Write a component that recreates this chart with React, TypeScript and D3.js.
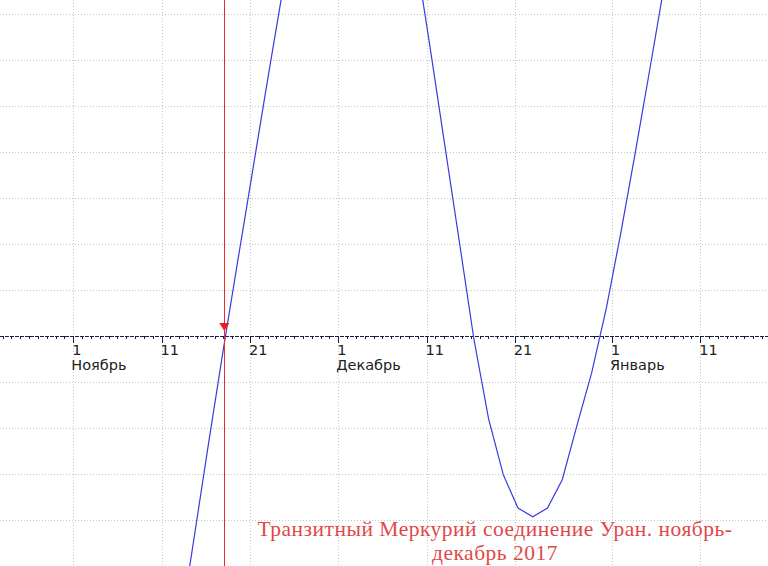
import React from "react";
import * as d3 from "d3";

// Days counted from 1 November 2017 (0 = Nov 1)
const sampleDays = [12.03, 13.70, 15.36, 17.03, 18.70, 20.36, 22.03, 23.70, 25.36, 27.03, 28.70, 30.36, 32.03, 33.70, 35.36, 37.03, 38.70, 40.36, 42.03, 43.70, 45.36, 47.03, 48.70, 50.36, 52.03, 53.70, 55.36, 57.03, 58.70, 60.36, 62.03, 63.70, 65.36, 67.03];
const orbValues = [-6.45, -4.36, -2.28, -0.24, 1.72, 3.65, 5.6, 7.5, 9.1, 10.4, 11.3, 11.95, 12.3, 12.1, 11.3, 10.05, 8.38, 6.33, 4.2, 2.07, -0.06, -1.8, -3.02, -3.74, -3.93, -3.74, -3.13, -1.95, -0.8, 0.6, 2.27, 4.05, 5.88, 7.75];

const tickDays = [0, 10, 20, 30, 40, 50, 61, 71];
const tickLabels = ["1", "11", "21", "1", "11", "21", "1", "11"];
const monthDays = [0, 30, 61];
const monthLabels = ["Ноябрь", "Декабрь", "Январь"];
const gridValues = [-5, -4, -3, -2, -1, 1, 2, 3, 4, 5, 6, 7];
const markerDay = 17.1;
const titleLines = ["Транзитный Меркурий соединение Уран. ноябрь-", "декабрь 2017"];

const W = 768;
const H = 566;

export default function App() {
  const x = d3.scaleLinear().domain([-8.3, 78.67]).range([0, W]);
  const y = d3.scaleLinear().domain([-5, 7.3043]).range([H, 0]);
  const y0 = y(0);

  const line = d3
    .line<number>()
    .x((_, i) => x(sampleDays[i]))
    .y((v) => y(v));

  const minorDays = d3.range(-8, 79);

  return (
    <svg
      width={W}
      height={H}
      style={{ position: "absolute", left: 0, top: 0, background: "#fff" }}
      fontFamily="'DejaVu Sans', Verdana, sans-serif"
    >
      <rect x={0} y={0} width={W} height={H} fill="#fff" />
      <defs>
        <clipPath id="plot">
          <rect x={0} y={0} width={W} height={H} />
        </clipPath>
      </defs>
      {/* grid */}
      <g stroke="#c4c4c4" strokeWidth={1} strokeDasharray="1 2">
        {gridValues.map((v) => (
          <line key={"h" + v} x1={0} x2={W} y1={Math.round(y(v)) + 0.5} y2={Math.round(y(v)) + 0.5} />
        ))}
        {tickDays.map((d) => (
          <line key={"v" + d} x1={Math.round(x(d)) + 0.5} x2={Math.round(x(d)) + 0.5} y1={0} y2={H} />
        ))}
      </g>
      {/* axis */}
      <line x1={0} x2={W} y1={Math.round(y0) + 0.5} y2={Math.round(y0) + 0.5} stroke="#1a1a40" strokeWidth={1} strokeDasharray="4 1" />
      <g stroke="#1a1a40" strokeWidth={1}>
        {minorDays.map((d) => (
          <line key={"m" + d} x1={Math.round(x(d)) + 0.5} x2={Math.round(x(d)) + 0.5} y1={Math.round(y0)} y2={Math.round(y0) + 3} />
        ))}
        {tickDays.map((d) => (
          <line key={"t" + d} x1={Math.round(x(d)) + 0.5} x2={Math.round(x(d)) + 0.5} y1={Math.round(y0)} y2={Math.round(y0) + 7} />
        ))}
      </g>
      <g fontSize={14.5} fill="#222">
        {tickDays.map((d, i) => (
          <text key={"l" + d} x={x(d) - 1} y={y0 + 19}>
            {tickLabels[i]}
          </text>
        ))}
        {monthDays.map((d, i) => (
          <text key={"mo" + d} x={x(d) - 2} y={y0 + 34}>
            {monthLabels[i]}
          </text>
        ))}
      </g>
      {/* curve */}
      <path d={line(orbValues) || ""} fill="none" stroke="#3a3ae0" strokeWidth={1.2} clipPath="url(#plot)" />
      {/* marker */}
      <line x1={Math.round(x(markerDay)) + 0.5} x2={Math.round(x(markerDay)) + 0.5} y1={0} y2={H} stroke="#ee2a2a" strokeWidth={1} />
      <path
        d={`M${x(markerDay) - 5},${y0 - 13} L${x(markerDay) + 5},${y0 - 13} L${x(markerDay)},${y0 - 5} Z`}
        fill="#ee1c1c"
      />
      {/* title */}
      <g
        fontFamily="'Liberation Serif', 'Times New Roman', serif"
        fontSize={21.5}
        letterSpacing={0.5}
        fill="#e04848"
        textAnchor="middle"
      >
        <text x={495} y={536}>{titleLines[0]}</text>
        <text x={495} y={560}>{titleLines[1]}</text>
      </g>
    </svg>
  );
}
